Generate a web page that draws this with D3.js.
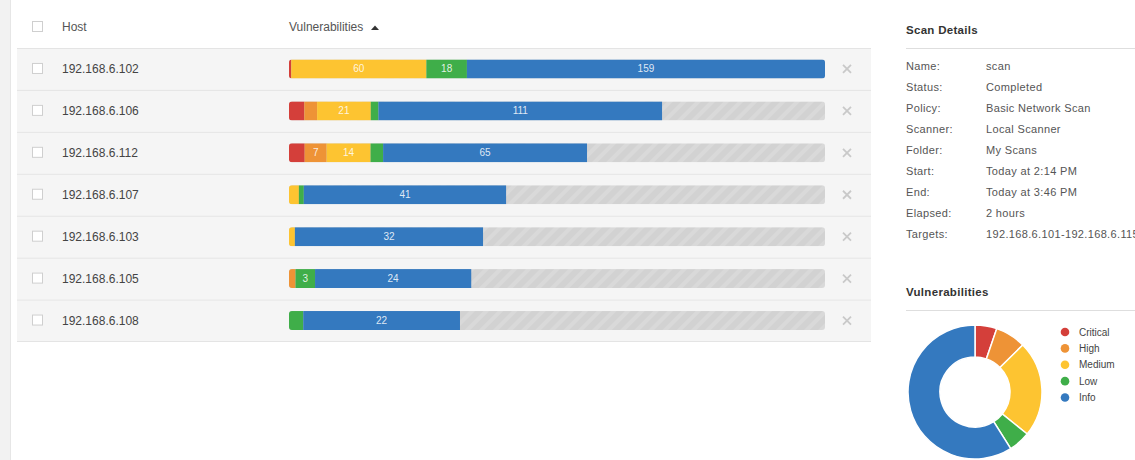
<!DOCTYPE html>
<html lang="en">
<head>
  <meta charset="UTF-8" />
  <title>Scan Hosts</title>
  <script src="https://cdn.jsdelivr.net/npm/d3@7"></script>
  <style>
    body { margin: 0; background: #fff; }
    svg { display: block; font-family: "Liberation Sans", Arial, sans-serif; }
  </style>
</head>
<body>
<script>
  var w = 1135,
    h = 460;

  // hosts and vulnerability counts per severity
  var hosts = ["192.168.6.102", "192.168.6.106", "192.168.6.112", "192.168.6.107",
    "192.168.6.103", "192.168.6.105", "192.168.6.108"];
  var critical = [1, 6, 5, 0, 0, 0, 0];
  var high = [0, 5, 7, 0, 0, 1, 0];
  var medium = [60, 21, 14, 2, 1, 0, 0];
  var low = [18, 3, 4, 1, 0, 3, 2];
  var info = [159, 111, 65, 41, 32, 24, 22];
  // length of each host bar, percent of the longest
  var barShare = [100, 69.6, 55.6, 40.5, 36.2, 34.0, 31.9];

  var severities = ["Critical", "High", "Medium", "Low", "Info"];
  var colors = ["#d43f3a", "#ee9336", "#fdc431", "#3fae49", "#3479bf"];

  var donutValues = [5, 7, 22, 5, 56];

  var detailLabels = ["Name:", "Status:", "Policy:", "Scanner:", "Folder:", "Start:", "End:", "Elapsed:", "Targets:"];
  var detailValues = ["scan", "Completed", "Basic Network Scan", "Local Scanner", "My Scans",
    "Today at 2:14 PM", "Today at 3:46 PM", "2 hours", "192.168.6.101-192.168.6.115"];

  var svg = d3.select("body").append("svg")
    .attr("width", w)
    .attr("height", h);

  var defs = svg.append("defs");
  var pat = defs.append("pattern")
    .attr("id", "stripes")
    .attr("patternUnits", "userSpaceOnUse")
    .attr("width", 10)
    .attr("height", 10)
    .attr("patternTransform", "rotate(45)");
  pat.append("rect").attr("width", 10).attr("height", 10).attr("fill", "#d2d2d2");
  pat.append("rect").attr("width", 4).attr("height", 10).attr("fill", "#d9d9d9");

  // left page edge
  svg.append("rect").attr("x", 0).attr("y", 0).attr("width", 10).attr("height", h).attr("fill", "#f2f2f2");
  svg.append("line").attr("x1", 10.5).attr("x2", 10.5).attr("y1", 0).attr("y2", h).attr("stroke", "#e6e6e6");

  var yScale = d3.scaleBand()
    .domain(hosts)
    .range([48, 341.5]);

  var xScale = d3.scaleLinear()
    .domain([0, 100])
    .range([289, 825]);

  // header
  function checkbox(g, cy) {
    g.append("rect")
      .attr("x", 32.5).attr("y", cy - 5.5)
      .attr("width", 10).attr("height", 10)
      .attr("fill", "#fff").attr("stroke", "#cfcfcf");
  }
  checkbox(svg, 27);
  svg.append("text").attr("x", 62).attr("y", 31).attr("font-size", 12).attr("fill", "#555").text("Host");
  svg.append("text").attr("x", 289).attr("y", 31).attr("font-size", 12).attr("fill", "#555").text("Vulnerabilities");
  svg.append("path").attr("d", "M371,30 L375,25.5 L379,30 Z").attr("fill", "#333");

  // rows
  var rows = svg.selectAll("g.row")
    .data(hosts)
    .enter()
    .append("g")
    .attr("class", "row")
    .attr("transform", function(d) { return "translate(0," + yScale(d) + ")"; });

  var rh = yScale.bandwidth();

  rows.append("rect")
    .attr("x", 17).attr("y", 0)
    .attr("width", 854).attr("height", rh)
    .attr("fill", "#f5f5f5");
  rows.append("line")
    .attr("x1", 17).attr("x2", 871)
    .attr("y1", 0.5).attr("y2", 0.5)
    .attr("stroke", "#e4e4e4");

  rows.each(function(d, i) {
    var g = d3.select(this);
    var cy = rh / 2;
    checkbox(g, cy);
    g.append("text").attr("x", 62).attr("y", cy + 4)
      .attr("font-size", 12).attr("fill", "#444").text(d);

    var barH = 19, barY = cy - 9.5;
    defs.append("clipPath").attr("id", "clip" + i)
      .append("rect")
      .attr("x", xScale(0)).attr("y", barY)
      .attr("width", xScale(100) - xScale(0)).attr("height", barH)
      .attr("rx", 3);

    var bar = g.append("g").attr("clip-path", "url(#clip" + i + ")");
    bar.append("rect")
      .attr("x", xScale(0)).attr("y", barY)
      .attr("width", xScale(100) - xScale(0)).attr("height", barH)
      .attr("fill", "url(#stripes)");

    var counts = [critical[i], high[i], medium[i], low[i], info[i]];
    var total = d3.sum(counts);
    var seg = d3.scaleLinear()
      .domain([0, total])
      .range([xScale(0), xScale(barShare[i])]);

    var start = 0;
    counts.forEach(function(c, k) {
      if (c > 0) {
        var x0 = seg(start), x1 = seg(start + c);
        bar.append("rect")
          .attr("x", x0).attr("y", barY)
          .attr("width", x1 - x0).attr("height", barH)
          .attr("fill", colors[k]);
        if (x1 - x0 >= 18) {
          g.append("text")
            .attr("x", (x0 + x1) / 2).attr("y", cy + 3.5)
            .attr("text-anchor", "middle")
            .attr("font-size", 10)
            .attr("fill", "#fff")
            .attr("fill-opacity", 0.85)
            .text(c);
        }
      }
      start += c;
    });

    // remove icon
    g.append("path")
      .attr("d", "M843,"+(cy-4)+" L851,"+(cy+4)+" M851,"+(cy-4)+" L843,"+(cy+4))
      .attr("stroke", "#c9c9c9").attr("stroke-width", 1.8);
  });

  svg.append("line")
    .attr("x1", 17).attr("x2", 871)
    .attr("y1", 341.5).attr("y2", 341.5)
    .attr("stroke", "#e4e4e4");

  // scan details
  svg.append("text").attr("x", 906).attr("y", 34)
    .attr("font-size", 11.5).attr("font-weight", "bold").attr("fill", "#333")
    .attr("letter-spacing", 0.3)
    .text("Scan Details");
  svg.append("line").attr("x1", 906).attr("x2", w).attr("y1", 48.5).attr("y2", 48.5).attr("stroke", "#dedede");

  var dy = d3.scaleBand().domain(detailLabels).range([56, 244]);
  svg.selectAll("text.dlabel")
    .data(detailLabels)
    .enter()
    .append("text")
    .attr("class", "dlabel")
    .attr("x", 906)
    .attr("y", function(d) { return dy(d) + dy.bandwidth() / 2 + 4; })
    .attr("font-size", 11).attr("fill", "#555")
    .attr("letter-spacing", 0.35)
    .text(function(d) { return d; });
  svg.selectAll("text.dvalue")
    .data(detailValues)
    .enter()
    .append("text")
    .attr("class", "dvalue")
    .attr("x", 986)
    .attr("y", function(d, i) { return dy(detailLabels[i]) + dy.bandwidth() / 2 + 4; })
    .attr("font-size", 11).attr("fill", "#555")
    .attr("letter-spacing", 0.35)
    .text(function(d) { return d; });

  // vulnerabilities donut
  svg.append("text").attr("x", 906).attr("y", 296)
    .attr("font-size", 11.5).attr("font-weight", "bold").attr("fill", "#333")
    .attr("letter-spacing", 0.3)
    .text("Vulnerabilities");
  svg.append("line").attr("x1", 906).attr("x2", w).attr("y1", 310.5).attr("y2", 310.5).attr("stroke", "#dedede");

  var pie = d3.pie().sort(null);
  var arc = d3.arc().innerRadius(35).outerRadius(67);

  svg.append("g")
    .attr("transform", "translate(975,392)")
    .selectAll("path")
    .data(pie(donutValues))
    .enter()
    .append("path")
    .attr("d", arc)
    .attr("fill", function(d, i) { return colors[i]; })
    .attr("stroke", "#fff")
    .attr("stroke-width", 1.5);

  var ly = d3.scalePoint().domain(severities).range([332, 397.5]);
  var legend = svg.selectAll("g.legend")
    .data(severities)
    .enter()
    .append("g")
    .attr("class", "legend")
    .attr("transform", function(d) { return "translate(1065," + ly(d) + ")"; });
  legend.append("circle").attr("r", 4.3).attr("fill", function(d, i) { return colors[i]; });
  legend.append("text").attr("x", 14).attr("y", 3.5)
    .attr("font-size", 10).attr("fill", "#444")
    .text(function(d) { return d; });
</script>
</body>
</html>
